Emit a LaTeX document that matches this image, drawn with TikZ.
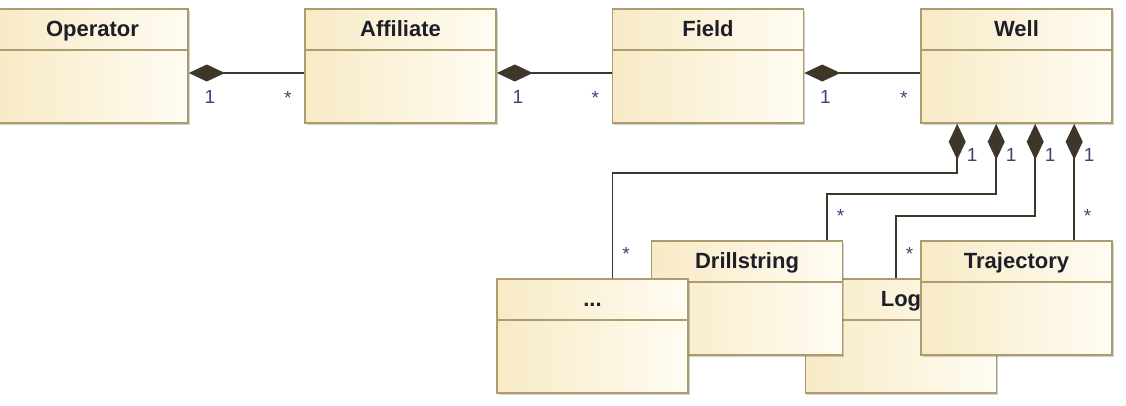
\documentclass[tikz,border=0pt]{standalone}
\usepackage{fontspec}
\setmainfont{Liberation Sans}
\usetikzlibrary{arrows.meta,calc,shadows}
\definecolor{clsline}{RGB}{172,156,110}
\definecolor{clsL}{RGB}{247,234,198}
\definecolor{clsR}{RGB}{255,252,242}
\definecolor{edgecol}{RGB}{62,54,40}
\definecolor{multcol}{RGB}{78,58,112}
\definecolor{titlecol}{RGB}{30,30,40}

\begin{document}
\begin{tikzpicture}[x=1pt,y=-1pt,
  cls/.style={draw=clsline,line width=1.6pt,left color=clsL,right color=clsR,minimum width=191pt,minimum height=114pt,inner sep=0pt,
    drop shadow={shadow xshift=1.5pt,shadow yshift=-1.5pt,fill=black,opacity=0.18},
    path picture={\draw[clsline,line width=1.6pt]([yshift=-41pt]path picture bounding box.north west)--([yshift=-41pt]path picture bounding box.north east);},
    label={[anchor=base,yshift=-28pt,font=\fontsize{22}{24}\selectfont\bfseries,text=titlecol]north:#1}},
  comp/.style={draw=edgecol,line width=1.5pt,{Diamond[length=36pt,width=17pt]}-},
  mult/.style={font=\fontsize{19}{21}\selectfont,text=multcol,inner sep=0pt,text height=14pt,text depth=0pt}]
  \useasboundingbox (0,0) rectangle (1126,405);
  \node[cls=Operator](op) at (92.5,66){};
  \node[cls=Affiliate](aff) at (400.5,66){};
  \node[cls=Field](fld) at (708,66){};
  \node[cls=Well](well) at (1016.5,66){};
  \node[cls=Log](log) at (901,336){};
  \node[cls=Drillstring](drill) at (747,298){};
  \node[cls=...](etc) at (592.5,336){};
  \node[cls=Trajectory](traj) at (1016.5,298){};
  \foreach \a/\b in {op/aff,fld/well,aff/fld}
    \draw[comp]([yshift=-7pt]\a.east) node[mult,anchor=north west,xshift=15pt,yshift=-16pt]{1}
      --([yshift=-7pt]\b.west) node[mult,anchor=north east,xshift=-12pt,yshift=-17pt]{*};
  \foreach \dx/\dy/\tgt/\tx in {37/49/etc/20,76/70/drill/80,115/92/log/-5}
    \draw[comp]([xshift=\dx pt]well.south west) node[mult,anchor=north west,xshift=9pt,yshift=-23pt]{1}
      --++(0,\dy)-|([xshift=\tx pt]\tgt.north) node[mult,anchor=north west,xshift=9pt,yshift=32pt]{*};
  \draw[comp]([xshift=154pt]well.south west) node[mult,anchor=north west,xshift=9pt,yshift=-23pt]{1}
    --([xshift=154pt]traj.north west) node[mult,anchor=north west,xshift=9pt,yshift=32pt]{*};
\end{tikzpicture}
\end{document}
